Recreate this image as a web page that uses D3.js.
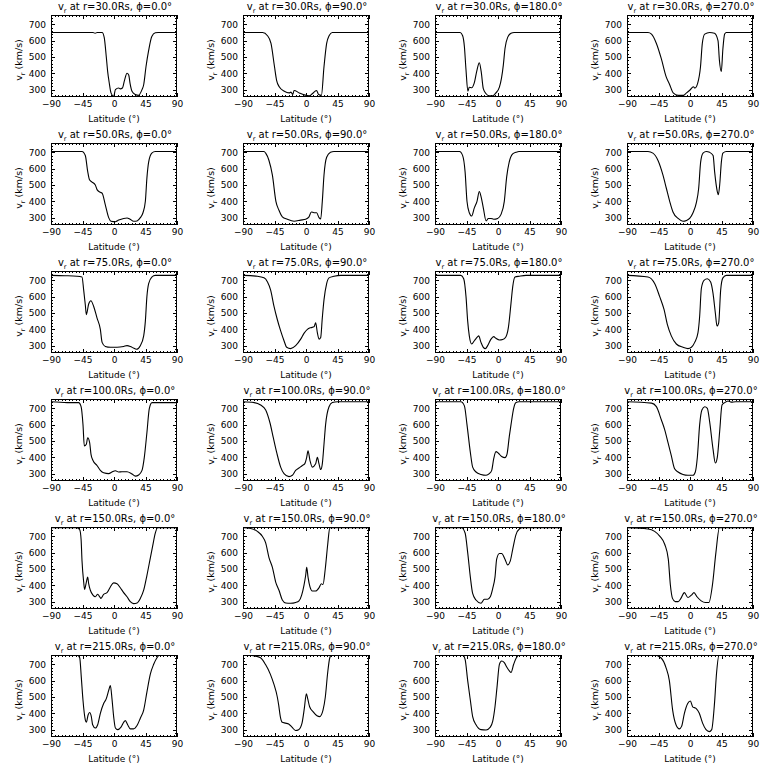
<!DOCTYPE html>
<html><head><meta charset="utf-8">
<script src="https://cdn.jsdelivr.net/npm/d3@7"></script>
<style>html,body{margin:0;padding:0;background:#fff;}svg{display:block;}</style>
</head><body>
<script>
const radii = [30, 50, 75, 100, 150, 215];
const phis = [0, 90, 180, 270];
const xTicks = [-90, -45, 0, 45, 90];
const yTicks = [300, 400, 500, 600, 700];
const xDomain = [-90, 90];
const yDomain = [255, 757];

const p30_0 = [[-90,650],[-30,650],[-27,645],[-24,650],[-17,650],[-14,620],[-11,500],[-9,409],[-7,347],[-4.3,280],[-0.5,258],[2,300],[6.7,310],[9,305],[12,310],[15,357],[18.6,400],[21,390],[23,337],[25.7,290],[30.5,270],[35,265],[40,300],[42.4,330],[45.7,440],[49.5,540],[54,625],[59,648],[63,650],[90,650]];
const p30_90 = [[-90,650],[-62,650],[-55,630],[-50,583],[-45,440],[-42,357],[-38,316],[-31,290],[-24,280],[-21.5,285],[-19,270],[-17,295],[-9.5,280],[-2.4,268],[4.8,262],[9,275],[15,295],[18,270],[22,265],[25.7,440],[29.5,583],[33,630],[37.6,650],[90,650]];
const p30_180 = [[-90,650],[-54,650],[-50.5,630],[-48,563],[-45.7,420],[-43,290],[-41,315],[-37.6,312],[-34,340],[-30,420],[-26.7,465],[-24,410],[-21,306],[-17,275],[-12.4,262],[-7.6,262],[-3,280],[2,315],[5,370],[7.6,450],[10,552],[13.8,620],[18.6,645],[23,650],[90,650]];
const p30_270 = [[-90,650],[-60,650],[-55,640],[-48,583],[-41,490],[-34,378],[-29,330],[-24,280],[-17,265],[-9.5,265],[-5,280],[0,298],[4.8,318],[7,310],[11,340],[15,440],[17.6,583],[21,640],[28,650],[35,645],[40,600],[42,480],[44.7,410],[47,550],[49.5,640],[52,650],[90,650]];

const p50_0 = [[-90,705],[-45.7,705],[-41,680],[-37.6,583],[-35,532],[-31.4,518],[-26.7,500],[-24,470],[-19.5,455],[-17,450],[-12.4,378],[-7.6,300],[-4.3,278],[2,275],[6.7,285],[13.8,295],[18.6,298],[23,290],[28,278],[33,280],[37.6,300],[41.4,330],[44.8,400],[47,542],[49.5,640],[54,695],[59,705],[90,705]];
const p50_90 = [[-90,705],[-60,705],[-57.6,695],[-52.9,650],[-48,560],[-43,400],[-38.6,345],[-33.8,305],[-26.7,290],[-17,278],[-7.6,285],[-0.5,290],[4.3,305],[7.6,335],[11.4,330],[15.2,330],[18.6,300],[21,292],[23.3,400],[25.7,560],[29.5,670],[35,700],[40,705],[90,705]];
const p50_180 = [[-90,705],[-55,705],[-50.5,680],[-47,580],[-44.3,400],[-41,330],[-37.6,310],[-33.8,360],[-30,400],[-26.7,460],[-24.3,430],[-21,360],[-17,280],[-13.8,295],[-10,295],[-6.2,290],[-0.5,295],[4.3,320],[9,400],[12.4,550],[16,640],[21,690],[25.7,700],[30,705],[90,705]];
const p50_270 = [[-90,705],[-60,705],[-53,695],[-45.7,650],[-38.6,560],[-33.8,480],[-29,400],[-24.3,335],[-17,295],[-10,278],[-5,283],[-0.5,295],[4.3,330],[9,390],[12.4,480],[15.2,640],[18.6,695],[23.3,705],[28,700],[33,680],[35.2,580],[39,460],[40.5,440],[42.4,500],[44.8,640],[47,695],[52,705],[90,705]];

const p75_0 = [[-90,730],[-70,728],[-53,725],[-45.7,720],[-43.3,640],[-41,550],[-39.5,490],[-36.2,555],[-33,575],[-29,540],[-24.3,470],[-19.5,400],[-17,320],[-12.4,295],[-5,290],[4.3,290],[13.8,295],[18.6,300],[23.3,295],[28,285],[32,278],[37.6,300],[42.4,360],[44.8,450],[47,600],[49.5,680],[54,720],[59,730],[90,730]];
const p75_90 = [[-90,730],[-69.5,725],[-60,715],[-55,690],[-50.5,640],[-45.7,540],[-41,460],[-36.2,390],[-31.4,330],[-27.6,290],[-22,282],[-14.8,300],[-7.6,340],[-2.9,375],[2,400],[6.7,410],[11.4,415],[13.8,440],[16.2,380],[18.6,340],[21,350],[23.3,470],[25.7,580],[29.5,680],[32.9,715],[40,725],[50,730],[90,730]];
const p75_180 = [[-90,730],[-53,730],[-49,710],[-45.7,600],[-43.3,450],[-41,360],[-37.6,310],[-33.8,330],[-29,355],[-27.6,360],[-24.3,320],[-21,290],[-18,282],[-14.8,300],[-10,340],[-6.2,355],[-2.9,345],[2,335],[6.7,338],[11.4,355],[14.8,410],[18.6,560],[21,660],[24.3,720],[30.5,725],[40,730],[90,730]];
const p75_270 = [[-90,730],[-60,720],[-50.5,680],[-43.3,600],[-37,520],[-32.4,430],[-26.7,360],[-19.5,310],[-10,290],[-2.9,282],[2,290],[6.7,320],[11.4,380],[13.8,480],[16.2,650],[20,700],[24.8,710],[29.5,690],[32.9,620],[36.2,500],[38.6,420],[41,440],[43.8,640],[47,715],[52,730],[90,730]];

const p100_0 = [[-90,740],[-67,735],[-50.5,735],[-47,710],[-44.3,600],[-42.4,470],[-39.5,480],[-37.6,520],[-34.8,490],[-32.9,420],[-30,380],[-24.3,350],[-19.5,320],[-14.8,305],[-7.6,300],[-2.9,310],[2,318],[6.7,310],[11.4,312],[18.6,312],[25.7,298],[30.5,285],[35.2,292],[40,320],[43.3,400],[47,550],[50.5,700],[54.3,735],[90,735]];
const p100_90 = [[-90,740],[-74,735],[-64.8,720],[-57.6,690],[-51.4,610],[-46.7,520],[-41.9,430],[-36.2,340],[-31.4,300],[-24.3,282],[-19.5,290],[-14.8,320],[-10,335],[-5.2,350],[-1.9,360],[1,400],[2.9,440],[5.7,380],[9,340],[13.8,360],[16.2,400],[18.6,360],[21,325],[23.3,360],[25.7,480],[28,600],[32.9,710],[37.6,735],[45,740],[90,740]];
const p100_180 = [[-90,740],[-53,740],[-48,715],[-44.3,600],[-39.5,430],[-36.2,340],[-31.4,310],[-24.3,295],[-17,290],[-12.4,300],[-9,320],[-6.2,390],[-2.9,435],[0.5,425],[5.2,405],[10,398],[12.9,420],[16.2,530],[18.6,600],[22.4,700],[25.7,735],[30,740],[90,740]];
const p100_270 = [[-90,740],[-55,732],[-48,710],[-41,630],[-36.2,570],[-31.4,490],[-26.7,410],[-22,330],[-17,310],[-10,295],[-2.9,290],[4.3,290],[7.6,310],[10.5,400],[13.8,600],[17,690],[21,710],[24.8,700],[28,620],[32.9,450],[36.2,365],[39,400],[42.4,560],[45.7,720],[49.5,735],[54.3,745],[59,738],[65,740],[90,740]];

const p150_0 = [[-90,752],[-53,752],[-49,740],[-47,680],[-45.7,550],[-43.3,420],[-42,375],[-39.5,420],[-37.6,450],[-36.2,410],[-33.8,370],[-30,340],[-26.7,330],[-23.3,345],[-20.5,330],[-18.6,320],[-14.8,345],[-10,355],[-5.2,390],[-0.5,415],[4.3,410],[9,385],[13.8,355],[18.6,330],[23.3,300],[28,288],[32.9,292],[37.6,320],[42.4,370],[47,460],[52,570],[55.2,640],[59,720],[62.4,752],[90,752]];
const p150_90 = [[-90,752],[-79,748],[-69.5,730],[-62.4,700],[-57.6,660],[-52.9,570],[-48,510],[-43.3,420],[-38.6,370],[-33.8,310],[-29,292],[-22,290],[-14.8,295],[-10,305],[-6.2,340],[-2.9,400],[-0.5,460],[1,510],[2.9,450],[5.7,390],[9,365],[13.8,365],[18.6,385],[21.9,410],[24.3,405],[27.5,500],[31,650],[34,752],[90,752]];
const p150_180 = [[-90,752],[-52,752],[-47,720],[-43.3,600],[-39.5,450],[-36.2,350],[-31.4,310],[-24.3,290],[-19.5,315],[-14.8,315],[-11,330],[-7.6,380],[-4.3,450],[-1.9,560],[2,595],[5.2,595],[10,560],[13.8,525],[17.6,550],[21,620],[25.7,710],[30.5,745],[35,752],[90,752]];
const p150_270 = [[-90,752],[-60,745],[-50.5,730],[-43,700],[-36,650],[-31,560],[-28,400],[-25,320],[-21,300],[-17,300],[-13,320],[-8,355],[-3,325],[2,340],[5.7,355],[10,330],[16,305],[22,295],[27,295],[32,400],[37,600],[42,752],[90,752]];

const p215_0 = [[-90,757],[-53,757],[-49,740],[-46.7,620],[-44.3,480],[-41,360],[-39.5,345],[-37,390],[-34.8,405],[-32.4,380],[-30.5,330],[-26.7,310],[-23.3,330],[-19.5,400],[-14.8,460],[-11,490],[-7.6,540],[-5.2,570],[-2.9,490],[-0.5,380],[2,310],[5.2,300],[10,315],[13.8,345],[16.2,355],[19.5,330],[23.3,305],[28,305],[32.9,325],[37.6,370],[42.4,420],[47,530],[51.9,640],[56.7,700],[61.4,740],[65,757],[90,757]];
const p215_90 = [[-90,757],[-75,752],[-65,740],[-58,700],[-51,640],[-46,580],[-41,500],[-39,450],[-36.7,380],[-34,345],[-29.5,340],[-24.8,335],[-20,315],[-15,295],[-10.5,300],[-5.7,340],[-2.4,430],[0.5,520],[2.4,490],[5.2,440],[10,410],[15.7,385],[19.5,380],[24.3,420],[27.6,500],[31,650],[34,740],[36.5,757],[90,757]];
const p215_180 = [[-90,757],[-50.5,757],[-47,730],[-43.3,600],[-39.5,480],[-36.2,380],[-31.4,330],[-24.3,300],[-17,298],[-11,315],[-7.6,350],[-4.3,440],[-1.4,560],[2,700],[5.2,720],[9,710],[12.9,680],[16.2,660],[18.6,650],[22.4,700],[25.7,735],[30.5,757],[90,757]];
const p215_270 = [[-90,757],[-51,757],[-41.6,740],[-34.3,680],[-29.5,600],[-24.8,420],[-20,330],[-15.2,305],[-12,320],[-8,400],[-3.3,460],[0.5,475],[3.8,440],[8.6,430],[13.3,400],[18,340],[22.9,300],[27.6,288],[31,300],[34.8,450],[38,650],[41.5,757],[90,757]];

const series = [
  [p30_0, p30_90, p30_180, p30_270],
  [p50_0, p50_90, p50_180, p50_270],
  [p75_0, p75_90, p75_180, p75_270],
  [p100_0, p100_90, p100_180, p100_270],
  [p150_0, p150_90, p150_180, p150_270],
  [p215_0, p215_90, p215_180, p215_270]
];

const W = 768, H = 768;
const svg = d3.select("body").append("svg").attr("width", W).attr("height", H)
  .style("font-family", "'DejaVu Sans', sans-serif");

const pw = 126, ph = 82;
const left0 = 51, top0 = 15, dx = 192, dy = 128;

const x = d3.scaleLinear().domain(xDomain).range([0, pw]);
const y = d3.scaleLinear().domain(yDomain).range([ph, 0]);

const xMinor = d3.range(-90, 90.01, 5);
const yMinor = d3.range(260, 757, 20);

const line = d3.line().x(d => x(d[0])).y(d => y(d[1])).curve(d3.curveMonotoneX);

radii.forEach((r, ri) => {
  phis.forEach((p, pi) => {
    const g = svg.append("g").attr("transform", `translate(${left0 + dx*pi},${top0 + dy*ri})`);
    const cid = `clip${ri}_${pi}`;
    g.append("clipPath").attr("id", cid).append("rect").attr("width", pw).attr("height", ph);

    // minor ticks
    const tk = g.append("g").attr("stroke", "#000").attr("stroke-width", 1).attr("shape-rendering", "crispEdges");
    xMinor.forEach(v => {
      const xx = Math.round(x(v)) + 0.5;
      tk.append("line").attr("x1", xx).attr("x2", xx).attr("y1", ph).attr("y2", ph - 2);
      tk.append("line").attr("x1", xx).attr("x2", xx).attr("y1", 0).attr("y2", 2);
    });
    yMinor.forEach(v => {
      const yy = Math.round(y(v)) + 0.5;
      tk.append("line").attr("x1", 0).attr("x2", 2).attr("y1", yy).attr("y2", yy);
      tk.append("line").attr("x1", pw).attr("x2", pw - 2).attr("y1", yy).attr("y2", yy);
    });

    // major axes via d3 axes
    const xAxis = d3.axisBottom(x).tickValues(xTicks).tickSize(-4).tickPadding(4).tickFormat(d => d === 0 ? "0" : d3.format("d")(d).replace("-", "\u2212"));
    const yAxis = d3.axisLeft(y).tickValues(yTicks).tickSize(-4).tickPadding(5).tickFormat(d3.format("d"));
    const xa = g.append("g").attr("transform", `translate(0,${ph})`).call(xAxis);
    const ya = g.append("g").call(yAxis);
    const xt = g.append("g").call(d3.axisTop(x).tickValues(xTicks).tickSize(-4).tickFormat(""));
    const yr = g.append("g").attr("transform", `translate(${pw},0)`).call(d3.axisRight(y).tickValues(yTicks).tickSize(-4).tickFormat(""));
    [xa, ya, xt, yr].forEach(a => {
      a.select(".domain").remove();
      a.selectAll("line").attr("stroke", "#000").attr("shape-rendering", "crispEdges");
      a.selectAll("text").attr("fill", "#000").style("font-size", "9px").style("font-family", "'DejaVu Sans', sans-serif");
    });

    // frame
    g.append("rect").attr("x", 0.5).attr("y", 0.5).attr("width", pw - 1).attr("height", ph - 1)
      .attr("fill", "none").attr("stroke", "#000").attr("stroke-width", 1).attr("shape-rendering", "crispEdges");

    // curve
    g.append("path").datum(series[ri][pi]).attr("clip-path", `url(#${cid})`)
      .attr("d", line).attr("fill", "none").attr("stroke", "#000").attr("stroke-width", 1.1);

    // title
    const t = g.append("text").attr("x", pw / 2 + 1).attr("y", -5).attr("text-anchor", "middle")
      .style("font-size", "10px").attr("fill", "#000");
    t.append("tspan").text("v");
    t.append("tspan").attr("dy", 2.5).style("font-size", "6.5px").text("r");
    t.append("tspan").attr("dy", -2.5).text(` at r=${r.toFixed(1)}Rs, `);
    t.append("tspan").text("\u03D5");
    t.append("tspan").text(`=${p.toFixed(1)}\u00B0`);

    // y label
    const yl = g.append("text").attr("transform", `translate(-29,${ph/2 + 4}) rotate(-90)`)
      .attr("text-anchor", "middle").style("font-size", "9.5px").attr("fill", "#000");
    yl.append("tspan").text("v");
    yl.append("tspan").attr("dy", 2.5).style("font-size", "6.5px").text("r");
    yl.append("tspan").attr("dy", -2.5).text(" (km/s)");

    // x label
    g.append("text").attr("x", pw / 2).attr("y", ph + 25).attr("text-anchor", "middle")
      .style("font-size", "9px").attr("fill", "#000").text("Latitude (\u00B0)");
  });
});
</script>
</body></html>
